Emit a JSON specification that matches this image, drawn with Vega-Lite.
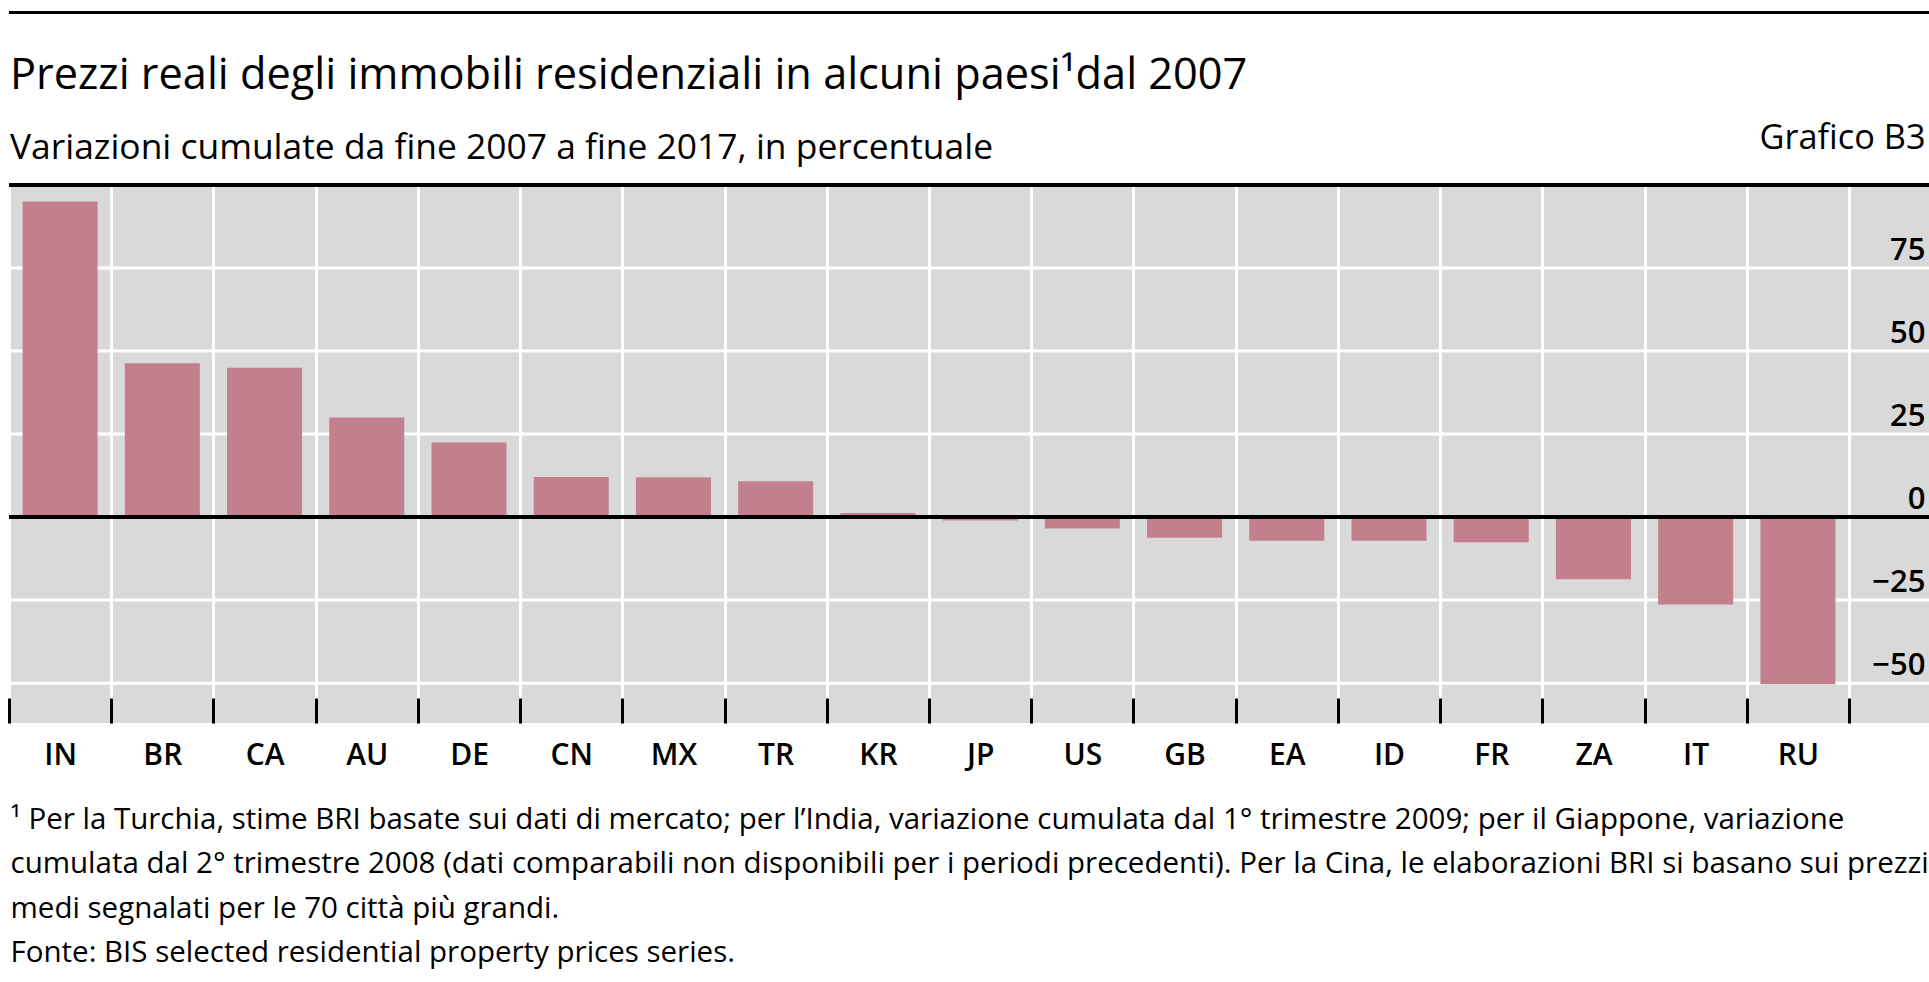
{
  "$schema": "https://vega.github.io/schema/vega-lite/v6.json",
  "autosize": {"type": "none"},
  "width": 1920,
  "height": 538,
  "padding": {"left": 9, "top": 185, "right": 0, "bottom": 259},
  "background": "white",
  "config": {
    "font": "Open Sans",
    "view": {"fill": "#d9d9d9", "stroke": null}
  },
  "title": {
    "text": "Prezzi reali degli immobili residenziali in alcuni paesi¹dal 2007",
    "subtitle": "Variazioni cumulate da fine 2007 a fine 2017, in percentuale",
    "anchor": "start",
    "frame": "group",
    "fontSize": 43.3,
    "fontWeight": "normal",
    "color": "black",
    "subtitleFontSize": 35.4,
    "subtitleColor": "black",
    "subtitlePadding": 33,
    "offset": -156,
    "dx": 1
  },
  "data": {
    "values": [
      {"paese": "IN", "valore": 95.0},
      {"paese": "BR", "valore": 46.3},
      {"paese": "CA", "valore": 45.0},
      {"paese": "AU", "valore": 30.0},
      {"paese": "DE", "valore": 22.5},
      {"paese": "CN", "valore": 12.1},
      {"paese": "MX", "valore": 12.0},
      {"paese": "TR", "valore": 10.8},
      {"paese": "KR", "valore": 1.2},
      {"paese": "JP", "valore": -1.0},
      {"paese": "US", "valore": -3.4},
      {"paese": "GB", "valore": -6.2},
      {"paese": "EA", "valore": -7.1},
      {"paese": "ID", "valore": -7.1},
      {"paese": "FR", "valore": -7.6},
      {"paese": "ZA", "valore": -18.7},
      {"paese": "IT", "valore": -26.3},
      {"paese": "RU", "valore": -50.3}
    ]
  },
  "layer": [
    {
      "data": {"values": [{"griglia": -50}, {"griglia": -25}, {"griglia": 25}, {"griglia": 50}, {"griglia": 75}]},
      "mark": {"type": "rule", "color": "white", "strokeWidth": 3},
      "encoding": {"y": {"field": "griglia", "type": "quantitative"}}
    },
    {
      "mark": {"type": "bar", "color": "#c2808f", "width": {"band": 0.734}},
      "encoding": {
        "x": {
          "field": "paese",
          "type": "nominal",
          "sort": null,
          "scale": {"range": [0, 1840], "paddingInner": 0, "paddingOuter": 0},
          "axis": {
            "orient": "bottom",
            "title": [
              "¹  Per la Turchia, stime BRI basate sui dati di mercato; per l’India, variazione cumulata dal 1° trimestre 2009; per il Giappone, variazione",
              "cumulata dal 2° trimestre 2008 (dati comparabili non disponibili per i periodi precedenti). Per la Cina, le elaborazioni BRI si basano sui prezzi",
              "medi segnalati per le 70 città più grandi.",
              "Fonte: BIS selected residential property prices series."
            ],
            "titleFontSize": 29.5,
            "titleFontWeight": "normal",
            "titleColor": "black",
            "titleAnchor": "start",
            "titleAlign": "left",
            "titleBaseline": "alphabetic",
            "titleX": 1,
            "titleY": 105,
            "titleLineHeight": 44.5,
            "labelAngle": 0,
            "labelFontSize": 30,
            "labelFontWeight": 600,
            "labelColor": "black",
            "labelBaseline": "alphabetic",
            "labelPadding": 66,
            "tickSize": -25,
            "tickWidth": 3,
            "tickColor": "black",
            "tickBand": "extent",
            "grid": true,
            "gridColor": "white",
            "gridWidth": 3,
            "domain": false
          }
        },
        "y": {
          "field": "valore",
          "type": "quantitative",
          "scale": {"domain": [-62, 100], "nice": false, "zero": false},
          "axis": {
            "orient": "right",
            "values": [-50, -25, 0, 25, 50, 75],
            "title": "Grafico B3",
            "titleAngle": 0,
            "titleAlign": "right",
            "titleBaseline": "alphabetic",
            "titleX": -4,
            "titleY": -37,
            "titleFontSize": 34.3,
            "titleFontWeight": "normal",
            "titleColor": "black",
            "labelAlign": "right",
            "labelPadding": -4,
            "labelBaseline": "alphabetic",
            "labelOffset": -9,
            "labelFontSize": 31,
            "labelFontWeight": 600,
            "labelColor": "black",
            "ticks": false,
            "domain": false,
            "grid": false
          }
        }
      }
    },
    {
      "mark": {"type": "rule", "color": "black", "strokeWidth": 3},
      "encoding": {"y": {"datum": 0, "type": "quantitative"}}
    },
    {
      "mark": {"type": "rule", "color": "black", "strokeWidth": 3},
      "encoding": {"y": {"datum": 100, "type": "quantitative"}}
    },
    {
      "mark": {"type": "rule", "color": "black", "strokeWidth": 2},
      "encoding": {"y": {"datum": 152, "type": "quantitative"}}
    }
  ]
}
